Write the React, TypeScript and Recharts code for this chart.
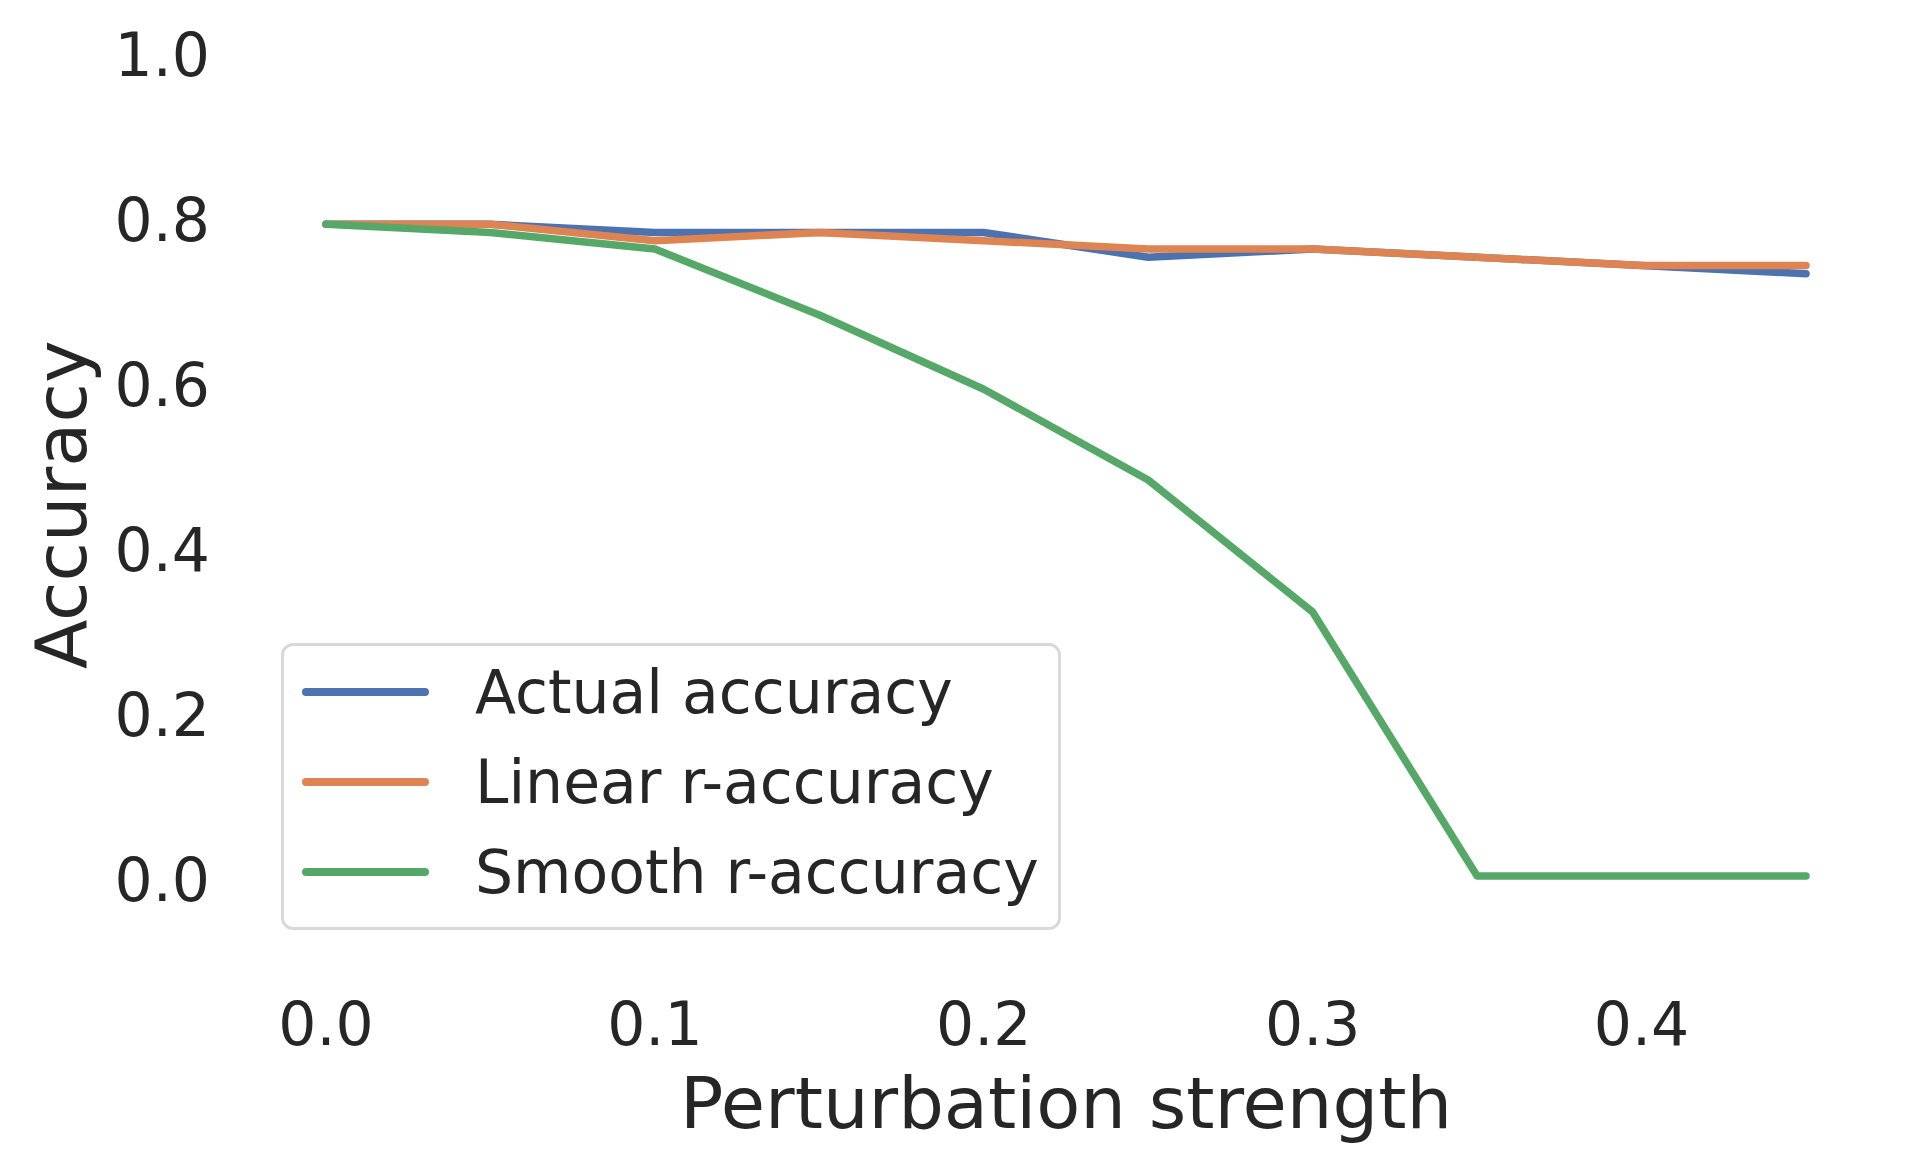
import { LineChart, Line, XAxis, YAxis, Legend, Label } from "recharts";

const strengths = [0, 0.05, 0.1, 0.15, 0.2, 0.25, 0.3, 0.35, 0.4, 0.45];
const actualAccuracy = [0.79, 0.79, 0.78, 0.78, 0.78, 0.75, 0.76, 0.75, 0.74, 0.73];
const linearRAccuracy = [0.79, 0.79, 0.77, 0.78, 0.77, 0.76, 0.76, 0.75, 0.74, 0.74];
const smoothRAccuracy = [0.79, 0.78, 0.76, 0.68, 0.59, 0.48, 0.32, 0, 0, 0];
const xTicks = [0, 0.1, 0.2, 0.3, 0.4];
const yTicks = [0, 0.2, 0.4, 0.6, 0.8, 1.0];

const data = strengths.map((s, i) => ({
  strength: s,
  actual: actualAccuracy[i],
  linear: linearRAccuracy[i],
  smooth: smoothRAccuracy[i],
}));

const FONT = "'DejaVu Sans', sans-serif";
const INK = "#262626";

function XTick({ x, y, payload }: any) {
  return (
    <text x={x} y={y + 86} textAnchor="middle" fontSize={60} fill={INK} fontFamily={FONT}>
      {Number(payload.value).toFixed(1)}
    </text>
  );
}

function YTick({ x, y, payload }: any) {
  return (
    <text x={x - 42} y={y + 25} textAnchor="end" fontSize={60} fill={INK} fontFamily={FONT}>
      {Number(payload.value).toFixed(1)}
    </text>
  );
}

function LegendBox({ payload }: any) {
  return (
    <div
      style={{
        boxSizing: "border-box",
        width: 780,
        height: 287,
        border: "3px solid #d9d9d9",
        borderRadius: 12,
        background: "#fff",
        paddingTop: 1,
        fontFamily: FONT,
        fontSize: 60,
        color: INK,
      }}
    >
      {(payload ?? []).map((p: any) => (
        <div key={p.value} style={{ display: "flex", alignItems: "center", height: 90, lineHeight: "90px" }}>
          <div style={{ marginLeft: 18, width: 127, height: 7.5, borderRadius: 4, background: p.color }} />
          <span style={{ marginLeft: 46, whiteSpace: "nowrap" }}>{p.value}</span>
        </div>
      ))}
    </div>
  );
}

export default function App() {
  return (
    <div style={{ position: "fixed", left: 0, top: 0, width: 1908, height: 1173, overflow: "hidden", background: "#fff" }}>
      <LineChart width={1908} height={1173} data={data} margin={{ top: 51, right: 28, bottom: 0, left: 0 }}>
        <XAxis
          dataKey="strength"
          type="number"
          domain={[-0.0225, 0.4725]}
          ticks={xTicks}
          axisLine={false}
          tickLine={false}
          tickSize={0}
          tickMargin={0}
          height={214.5}
          tick={<XTick />}
        >
          <Label
            content={({ viewBox }: any) => (
              <text
                x={viewBox.x + viewBox.width / 2}
                y={viewBox.y + 169.5}
                textAnchor="middle"
                fontSize={72}
                fill={INK}
                fontFamily={FONT}
              >
                Perturbation strength
              </text>
            )}
          />
        </XAxis>
        <YAxis
          type="number"
          domain={[-0.1, 1.0]}
          ticks={yTicks}
          axisLine={false}
          tickLine={false}
          tickSize={0}
          tickMargin={0}
          width={252}
          tick={<YTick />}
        >
          <Label
            content={({ viewBox }: any) => {
              const cy = viewBox.y + viewBox.height / 2;
              return (
                <text
                  x={86}
                  y={cy}
                  transform={`rotate(-90 86 ${cy})`}
                  textAnchor="middle"
                  fontSize={72}
                  fill={INK}
                  fontFamily={FONT}
                >
                  Accuracy
                </text>
              );
            }}
          />
        </YAxis>
        <Legend
          layout="vertical"
          align="center"
          verticalAlign="middle"
          wrapperStyle={{ left: 281, top: 643, width: 780, height: 287 }}
          content={<LegendBox />}
        />
        <Line
          name="Actual accuracy"
          dataKey="actual"
          type="linear"
          stroke="#4c72b0"
          strokeWidth={7.5}
          strokeLinecap="round"
          strokeLinejoin="round"
          dot={false}
          isAnimationActive={false}
        />
        <Line
          name="Linear r-accuracy"
          dataKey="linear"
          type="linear"
          stroke="#dd8452"
          strokeWidth={7.5}
          strokeLinecap="round"
          strokeLinejoin="round"
          dot={false}
          isAnimationActive={false}
        />
        <Line
          name="Smooth r-accuracy"
          dataKey="smooth"
          type="linear"
          stroke="#55a868"
          strokeWidth={7.5}
          strokeLinecap="round"
          strokeLinejoin="round"
          dot={false}
          isAnimationActive={false}
        />
      </LineChart>
    </div>
  );
}
